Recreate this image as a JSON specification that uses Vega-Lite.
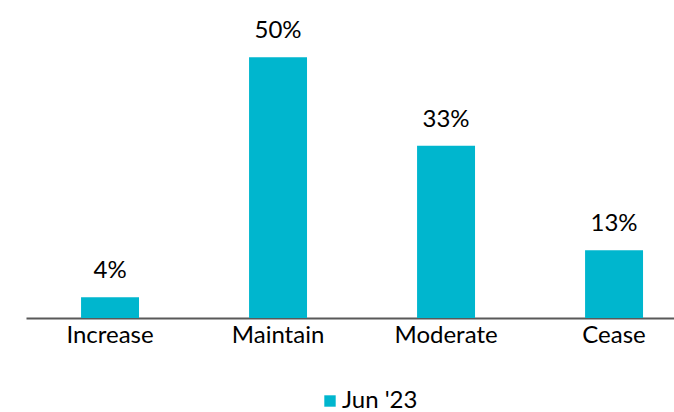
{
  "$schema": "https://vega.github.io/schema/vega-lite/v6.json",
  "width": 648,
  "height": 313,
  "autosize": {"type": "none"},
  "padding": {"left": 26, "top": 5, "right": 0, "bottom": 94},
  "background": "white",
  "config": {"view": {"stroke": null}, "font": "Lato"},
  "data": {"values": [
    {"category": "Increase", "value": 0.04, "series": "Jun '23"},
    {"category": "Maintain", "value": 0.50, "series": "Jun '23"},
    {"category": "Moderate", "value": 0.33, "series": "Jun '23"},
    {"category": "Cease", "value": 0.13, "series": "Jun '23"}
  ]},
  "encoding": {
    "x": {
      "field": "category", "type": "nominal", "sort": null,
      "scale": {"paddingInner": 0.655, "paddingOuter": 0.256, "align": 0.64},
      "axis": {"title": null, "labelAngle": 0, "ticks": false, "domainColor": "#595959", "domainWidth": 2, "labelFontSize": 24, "labelColor": "#000000", "labelFont": "Lato", "labelPadding": 5}
    },
    "y": {"field": "value", "type": "quantitative", "scale": {"domain": [0, 0.6]}, "axis": null}
  },
  "layer": [
    {
      "mark": {"type": "bar", "color": "#00B6CE"},
      "encoding": {
        "color": {"field": "series", "type": "nominal", "scale": {"range": ["#00B6CE"]},
          "legend": {"title": null, "orient": "none", "legendX": 292, "legendY": 384, "symbolType": "square", "symbolSize": 130, "labelFontSize": 24, "labelColor": "#000000", "labelFont": "Lato", "labelOffset": 0}}
      }
    },
    {
      "mark": {"type": "text", "dy": -14, "baseline": "bottom", "fontSize": 24, "color": "#000000", "font": "Lato"},
      "encoding": {"text": {"field": "value", "type": "quantitative", "format": ".0%"}}
    }
  ]
}
